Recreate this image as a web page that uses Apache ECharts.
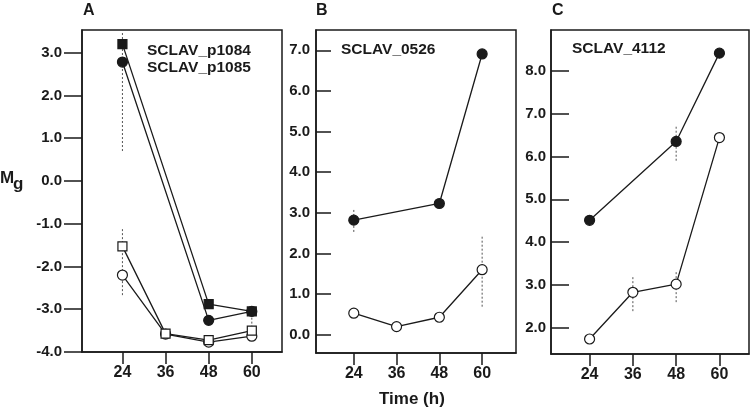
<!DOCTYPE html>
<html><head><meta charset="utf-8">
<script src="https://cdn.jsdelivr.net/npm/echarts@6/dist/echarts.min.js"></script>
<style>html,body{margin:0;padding:0;background:#fff}#c{width:751px;height:414px}</style>
</head><body><div id="c"></div>
<script>
// ---------- data ----------
const timePoints = [24, 36, 48, 60];
const xTickLabels = ['24', '36', '48', '60'];

// Panel A: SCLAV_p1084 (squares) / SCLAV_p1085 (circles)
const aFilledSquare = [[24, 3.20], [48, -2.88], [60, -3.05]];
const aFilledCircle = [[24, 2.78], [48, -3.26], [60, -3.05]];
const aOpenSquare   = [[24, -1.53], [36, -3.57], [48, -3.72], [60, -3.50]];
const aOpenCircle   = [[24, -2.20], [36, -3.58], [48, -3.77], [60, -3.63]];
const aErrors       = [[24, 0.70, 3.49], [24, -2.67, -1.08], [60, -3.43, -3.15]];
const aYTicks       = [-4, -3, -2, -1, 0, 1, 2, 3];

// Panel B: SCLAV_0526
const bFilledCircle = [[24, 2.82], [48, 3.23], [60, 6.91]];
const bOpenCircle   = [[24, 0.53], [36, 0.20], [48, 0.43], [60, 1.60]];
const bErrors       = [[24, 2.53, 3.08], [60, 0.69, 2.42]];
const bYTicks       = [0, 1, 2, 3, 4, 5, 6, 7];

// Panel C: SCLAV_4112
const cFilledCircle = [[24, 4.51], [48, 6.35], [60, 8.41]];
const cOpenCircle   = [[24, 1.74], [36, 2.83], [48, 3.02], [60, 6.44]];
const cErrors       = [[48, 5.90, 6.74], [36, 2.39, 3.23], [48, 2.60, 3.33]];
const cYTicks       = [2, 3, 4, 5, 6, 7, 8];

const panelTitles = ['A', 'B', 'C'];
const geneLabels = ['SCLAV_p1084\nSCLAV_p1085', 'SCLAV_0526', 'SCLAV_4112'];
const yAxisName = 'M';
const yAxisSub = 'g';
const xAxisName = 'Time (h)';

// ---------- styling / layout ----------
const FONT = "'Liberation Sans', Arial, Helvetica, sans-serif";
const INK = '#1a1a1a';

const grids = [
  {left: 82, top: 30, width: 200, height: 322},
  {left: 316, top: 30, width: 200, height: 323},
  {left: 551, top: 30, width: 198, height: 324}
];
const xRanges = [[12.75, 68.4], [13.4, 69.5], [13.3, 68.2]];
const yRanges = [[-4, 3.53], [-0.45, 7.5], [1.39, 8.95]];
const yTicksAll = [aYTicks, bYTicks, cYTicks];
const yTickInside = [false, true, true];
const yTickLen = [18, 15, 18];
const yLabelMargin = [20, 6, 5];

function xAxis(i) {
  return {
    type: 'value', gridIndex: i, min: xRanges[i][0], max: xRanges[i][1],
    axisLine: {show: true, onZero: false, lineStyle: {color: INK, width: 1.5}},
    axisTick: {show: true, inside: false, length: 12, customValues: timePoints,
      lineStyle: {color: INK, width: 1.5}},
    axisLabel: {show: true, customValues: timePoints, margin: 13,
      formatter: v => xTickLabels[timePoints.indexOf(v)] ?? String(v),
      color: INK, fontSize: 16, fontWeight: 'bold', fontFamily: FONT},
    splitLine: {show: false}
  };
}
function yAxis(i) {
  return {
    type: 'value', gridIndex: i, min: yRanges[i][0], max: yRanges[i][1],
    axisLine: {show: true, onZero: false, lineStyle: {color: INK, width: 1.5}},
    axisTick: {show: true, inside: yTickInside[i], length: yTickLen[i], customValues: yTicksAll[i],
      lineStyle: {color: INK, width: 1.5}},
    axisLabel: {show: true, customValues: yTicksAll[i], margin: yLabelMargin[i],
      formatter: v => v.toFixed(1),
      color: INK, fontSize: 15, fontWeight: 'bold', fontFamily: FONT},
    splitLine: {show: false}
  };
}
function lineSeries(i, data, symbol, filled, size, z) {
  return {
    type: 'line', xAxisIndex: i, yAxisIndex: i, data, symbol, symbolSize: size,
    showSymbol: true, clip: false, animation: false, z: z,
    lineStyle: {color: INK, width: 1.3},
    itemStyle: {color: filled ? INK : '#ffffff', borderColor: INK, borderWidth: 1.2, opacity: 1},
    emphasis: {disabled: true}
  };
}
function errSeries(i, data) {
  return {
    type: 'custom', xAxisIndex: i, yAxisIndex: i, data, z: 1, silent: true, animation: false,
    encode: {x: 0, y: [1, 2]},
    renderItem(params, api) {
      const p1 = api.coord([api.value(0), api.value(1)]);
      const p2 = api.coord([api.value(0), api.value(2)]);
      return {type: 'line', shape: {x1: p1[0], y1: p1[1], x2: p2[0], y2: p2[1]},
        style: {stroke: '#555', lineWidth: 1, lineDash: [2, 2]}};
    }
  };
}

const textStyle = (size) => ({fill: INK, fontSize: size, fontWeight: 'bold', fontFamily: FONT});

const option = {
  backgroundColor: '#ffffff',
  animation: false,
  grid: grids.map(g => Object.assign({show: true, borderColor: INK, borderWidth: 1.5,
    backgroundColor: 'transparent', containLabel: false}, g)),
  xAxis: [0, 1, 2].map(xAxis),
  yAxis: [0, 1, 2].map(yAxis),
  series: [
    errSeries(0, aErrors),
    lineSeries(0, aFilledCircle, 'circle', true, 10, 3),
    lineSeries(0, aFilledSquare, 'rect', true, 9, 4),
    lineSeries(0, aOpenCircle, 'circle', false, 10, 3),
    lineSeries(0, aOpenSquare, 'rect', false, 9, 4),
    errSeries(1, bErrors),
    lineSeries(1, bFilledCircle, 'circle', true, 10, 3),
    lineSeries(1, bOpenCircle, 'circle', false, 10, 3),
    errSeries(2, cErrors),
    lineSeries(2, cFilledCircle, 'circle', true, 10, 3),
    lineSeries(2, cOpenCircle, 'circle', false, 10, 3)
  ],
  graphic: [
    {type: 'text', left: 83, top: 3, style: Object.assign({text: panelTitles[0]}, textStyle(16))},
    {type: 'text', left: 316, top: 3, style: Object.assign({text: panelTitles[1]}, textStyle(16))},
    {type: 'text', left: 552, top: 3, style: Object.assign({text: panelTitles[2]}, textStyle(16))},
    {type: 'text', left: 147, top: 42, style: Object.assign({text: geneLabels[0], lineHeight: 17}, textStyle(15.5))},
    {type: 'text', left: 341, top: 42, style: Object.assign({text: geneLabels[1]}, textStyle(15.5))},
    {type: 'text', left: 572, top: 41, style: Object.assign({text: geneLabels[2]}, textStyle(15.5))},
    {type: 'text', left: 0, top: 170, style: Object.assign({text: yAxisName}, textStyle(17))},
    {type: 'text', left: 13, top: 176, style: Object.assign({text: yAxisSub}, textStyle(17))},
    {type: 'text', left: 379, top: 391, style: Object.assign({text: xAxisName}, textStyle(17))}
  ]
};

const chart = echarts.init(document.getElementById('c'), null, {renderer: 'canvas'});
chart.setOption(option);
</script>
</body></html>
